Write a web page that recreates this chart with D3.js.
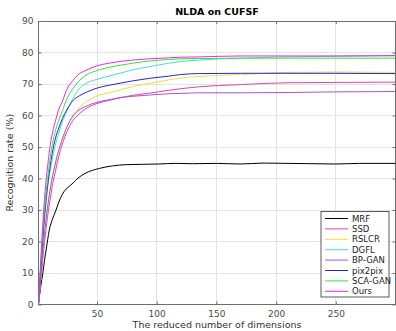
<!DOCTYPE html>
<html><head><meta charset="utf-8">
<script src="https://cdn.jsdelivr.net/npm/d3@7"></script>
<style>body{margin:0;background:#fff}svg{display:block}text{font-family:"DejaVu Sans",sans-serif}</style>
</head><body><svg id="c" width="396" height="331"></svg>
<script>
const title = "NLDA on CUFSF";
const xLabel = "The reduced number of dimensions";
const yLabel = "Recognition rate (%)";
const xTicks = [50, 100, 150, 200, 250];
const yTicks = [0, 10, 20, 30, 40, 50, 60, 70, 80, 90];
const seriesNames = ["MRF", "SSD", "RSLCR", "DGFL", "BP-GAN", "pix2pix", "SCA-GAN", "Ours"];
const seriesColors = ["#000000", "#e6439a", "#f0de3c", "#45e0c4", "#a552e6", "#2424e0", "#33e633", "#f025f0"];

const dimsMRF = [1, 3, 4.6, 6, 7.4, 10, 13, 15.7, 18, 21, 24, 27, 30, 34, 40, 52, 63, 75, 88, 102, 116, 130, 150, 170, 190, 210, 230, 250, 270, 300];
const valMRF  = [0.3, 6, 9.9, 14, 17.3, 23.6, 27.4, 30, 32.5, 35, 36.6, 37.6, 38.6, 40.1, 41.6, 43.2, 44.0, 44.4, 44.5, 44.6, 44.8, 44.7, 44.8, 44.6, 44.9, 44.8, 44.7, 44.6, 44.8, 44.8];

const dims = [1, 3, 5, 7, 9, 11, 13, 15, 18, 21, 25, 30, 35, 40, 50, 60, 70, 80, 94, 110, 120, 135, 170, 210, 250, 300];
const valSSD    = [0, 8, 16, 23, 29, 34, 38.5, 42, 47, 51, 55, 58.5, 60.5, 62, 63.8, 64.8, 65.7, 66.4, 67.1, 68, 68.5, 69.1, 69.8, 70.4, 70.5, 70.6];
const valRSLCR  = [0, 9, 18, 26, 32, 37, 41.5, 45, 49.5, 53, 56.5, 59.5, 62.3, 64, 66.2, 67.2, 68.2, 69.2, 70.2, 71.3, 71.9, 72.4, 73, 73.7, 73.8, 73.7];
const valDGFL   = [0, 11, 22, 31, 38, 43, 47, 50.5, 54.5, 58, 61.5, 65.5, 68.5, 70, 71.5, 72.5, 73.5, 74.5, 75.5, 76.6, 77.1, 77.6, 78.2, 78.6, 78.8, 79.0];
const valBPGAN  = [0, 9, 18, 26, 32, 37, 41, 44.5, 49, 52.5, 56.5, 60, 61.8, 62.8, 64.2, 65, 65.7, 66.1, 66.5, 66.9, 67, 67.2, 67.2, 67.3, 67.5, 67.6];
const valPix2pix= [0, 12, 23, 32, 39, 44.5, 49, 52.5, 56, 59, 62, 64.8, 66.2, 67.2, 68.7, 69.6, 70.3, 71, 71.8, 72.5, 73, 73.3, 73.4, 73.4, 73.4, 73.3];
const valSCAGAN = [0, 13, 25, 34, 41, 47, 51.5, 55, 58.5, 61.5, 65.5, 68.7, 71, 72.6, 74.3, 75.3, 76, 76.6, 77.3, 77.8, 78, 78.1, 78.2, 78.2, 78.2, 78.2];
const valOurs   = [0, 15, 28, 38, 45, 51, 55, 58, 62, 64.5, 68.5, 71.2, 73.2, 74.2, 75.8, 76.6, 77.2, 77.6, 78, 78.3, 78.5, 78.6, 78.9, 78.9, 78.9, 79.0];

const seriesValues = [valMRF, valSSD, valRSLCR, valDGFL, valBPGAN, valPix2pix, valSCAGAN, valOurs];

const svg = d3.select("#c");
const L = 38.5, R = 395.5, T = 21, B = 304.5;
const x = d3.scaleLinear().domain([1, 300]).range([L, R]);
const y = d3.scaleLinear().domain([0, 90]).range([B, T]);

// grid
const g = svg.append("g");
g.selectAll(".gx").data(xTicks).join("line").attr("x1", d => x(d)).attr("x2", d => x(d)).attr("y1", T).attr("y2", B).attr("stroke", "#e3e3e3").attr("stroke-width", 1).attr("shape-rendering","crispEdges");
g.selectAll(".gy").data(yTicks.slice(1,-1)).join("line").attr("x1", L).attr("x2", R).attr("y1", d => y(d)).attr("y2", d => y(d)).attr("stroke", "#e3e3e3").attr("stroke-width", 1).attr("shape-rendering","crispEdges");

// axes
const axisColor = "#6e6e6e";
const xAxis = svg.append("g").attr("transform", `translate(0,${B})`).call(d3.axisBottom(x).tickValues(xTicks).tickSizeInner(-3).tickSizeOuter(0).tickPadding(6));
const yAxis = svg.append("g").attr("transform", `translate(${L},0)`).call(d3.axisLeft(y).tickValues(yTicks).tickSizeInner(-3).tickSizeOuter(0).tickPadding(5));
const xTop = svg.append("g").attr("transform", `translate(0,${T})`).call(d3.axisTop(x).tickValues(xTicks).tickSizeInner(-3).tickSizeOuter(0).tickFormat(""));
const yRight = svg.append("g").attr("transform", `translate(${R},0)`).call(d3.axisRight(y).tickValues(yTicks).tickSizeInner(-3).tickSizeOuter(0).tickFormat(""));
[xAxis, yAxis, xTop, yRight].forEach(a => {
  a.select(".domain").remove();
  a.selectAll("line").attr("stroke", axisColor);
  a.selectAll("text").attr("fill", "#4a4a4a").style("font-size", "9px").style("font-family", "DejaVu Sans");
});
svg.append("rect").attr("x", L).attr("y", T).attr("width", R - L).attr("height", B - T).attr("fill", "none").attr("stroke", axisColor).attr("stroke-width", 1).attr("shape-rendering","crispEdges");

// lines
svg.append("clipPath").attr("id", "clp").append("rect").attr("x", L).attr("y", T).attr("width", R - L).attr("height", B - T);
const lg = svg.append("g").attr("clip-path", "url(#clp)");
seriesNames.forEach((name, i) => {
  const xs = i === 0 ? dimsMRF : dims;
  const pts = xs.map((d, j) => [d, seriesValues[i][j]]);
  lg.append("path").datum(pts)
    .attr("d", d3.line().x(d => x(d[0])).y(d => y(d[1])).curve(d3.curveMonotoneX))
    .attr("fill", "none").attr("stroke", seriesColors[i]).attr("stroke-width", 1);
});

// title & labels
svg.append("text").attr("x", (L + R) / 2).attr("y", 15).attr("text-anchor", "middle").style("font-size", "9.5px").style("font-weight", "bold").attr("fill", "#000").text(title);
svg.append("text").attr("x", (L + R) / 2).attr("y", 328).attr("text-anchor", "middle").style("font-size", "9.5px").attr("fill", "#333").text(xLabel);
svg.append("text").attr("transform", `translate(13,${(T + B) / 2}) rotate(-90)`).attr("text-anchor", "middle").style("font-size", "9.5px").attr("fill", "#333").text(yLabel);

// legend
const lgX = 321, lgY = 211.5, lgW = 68, lgH = 85.5;
svg.append("rect").attr("x", lgX).attr("y", lgY).attr("width", lgW).attr("height", lgH).attr("fill", "#fff").attr("stroke", "#333").attr("stroke-width", 0.8);
seriesNames.forEach((name, i) => {
  const yy = lgY + 7 + i * 10.4;
  svg.append("line").attr("x1", lgX + 4).attr("x2", lgX + 27).attr("y1", yy).attr("y2", yy).attr("stroke", seriesColors[i]).attr("stroke-width", 1);
  svg.append("text").attr("x", lgX + 31).attr("y", yy + 3).style("font-size", "8.5px").attr("fill", "#222").text(name);
});
</script></body></html>
